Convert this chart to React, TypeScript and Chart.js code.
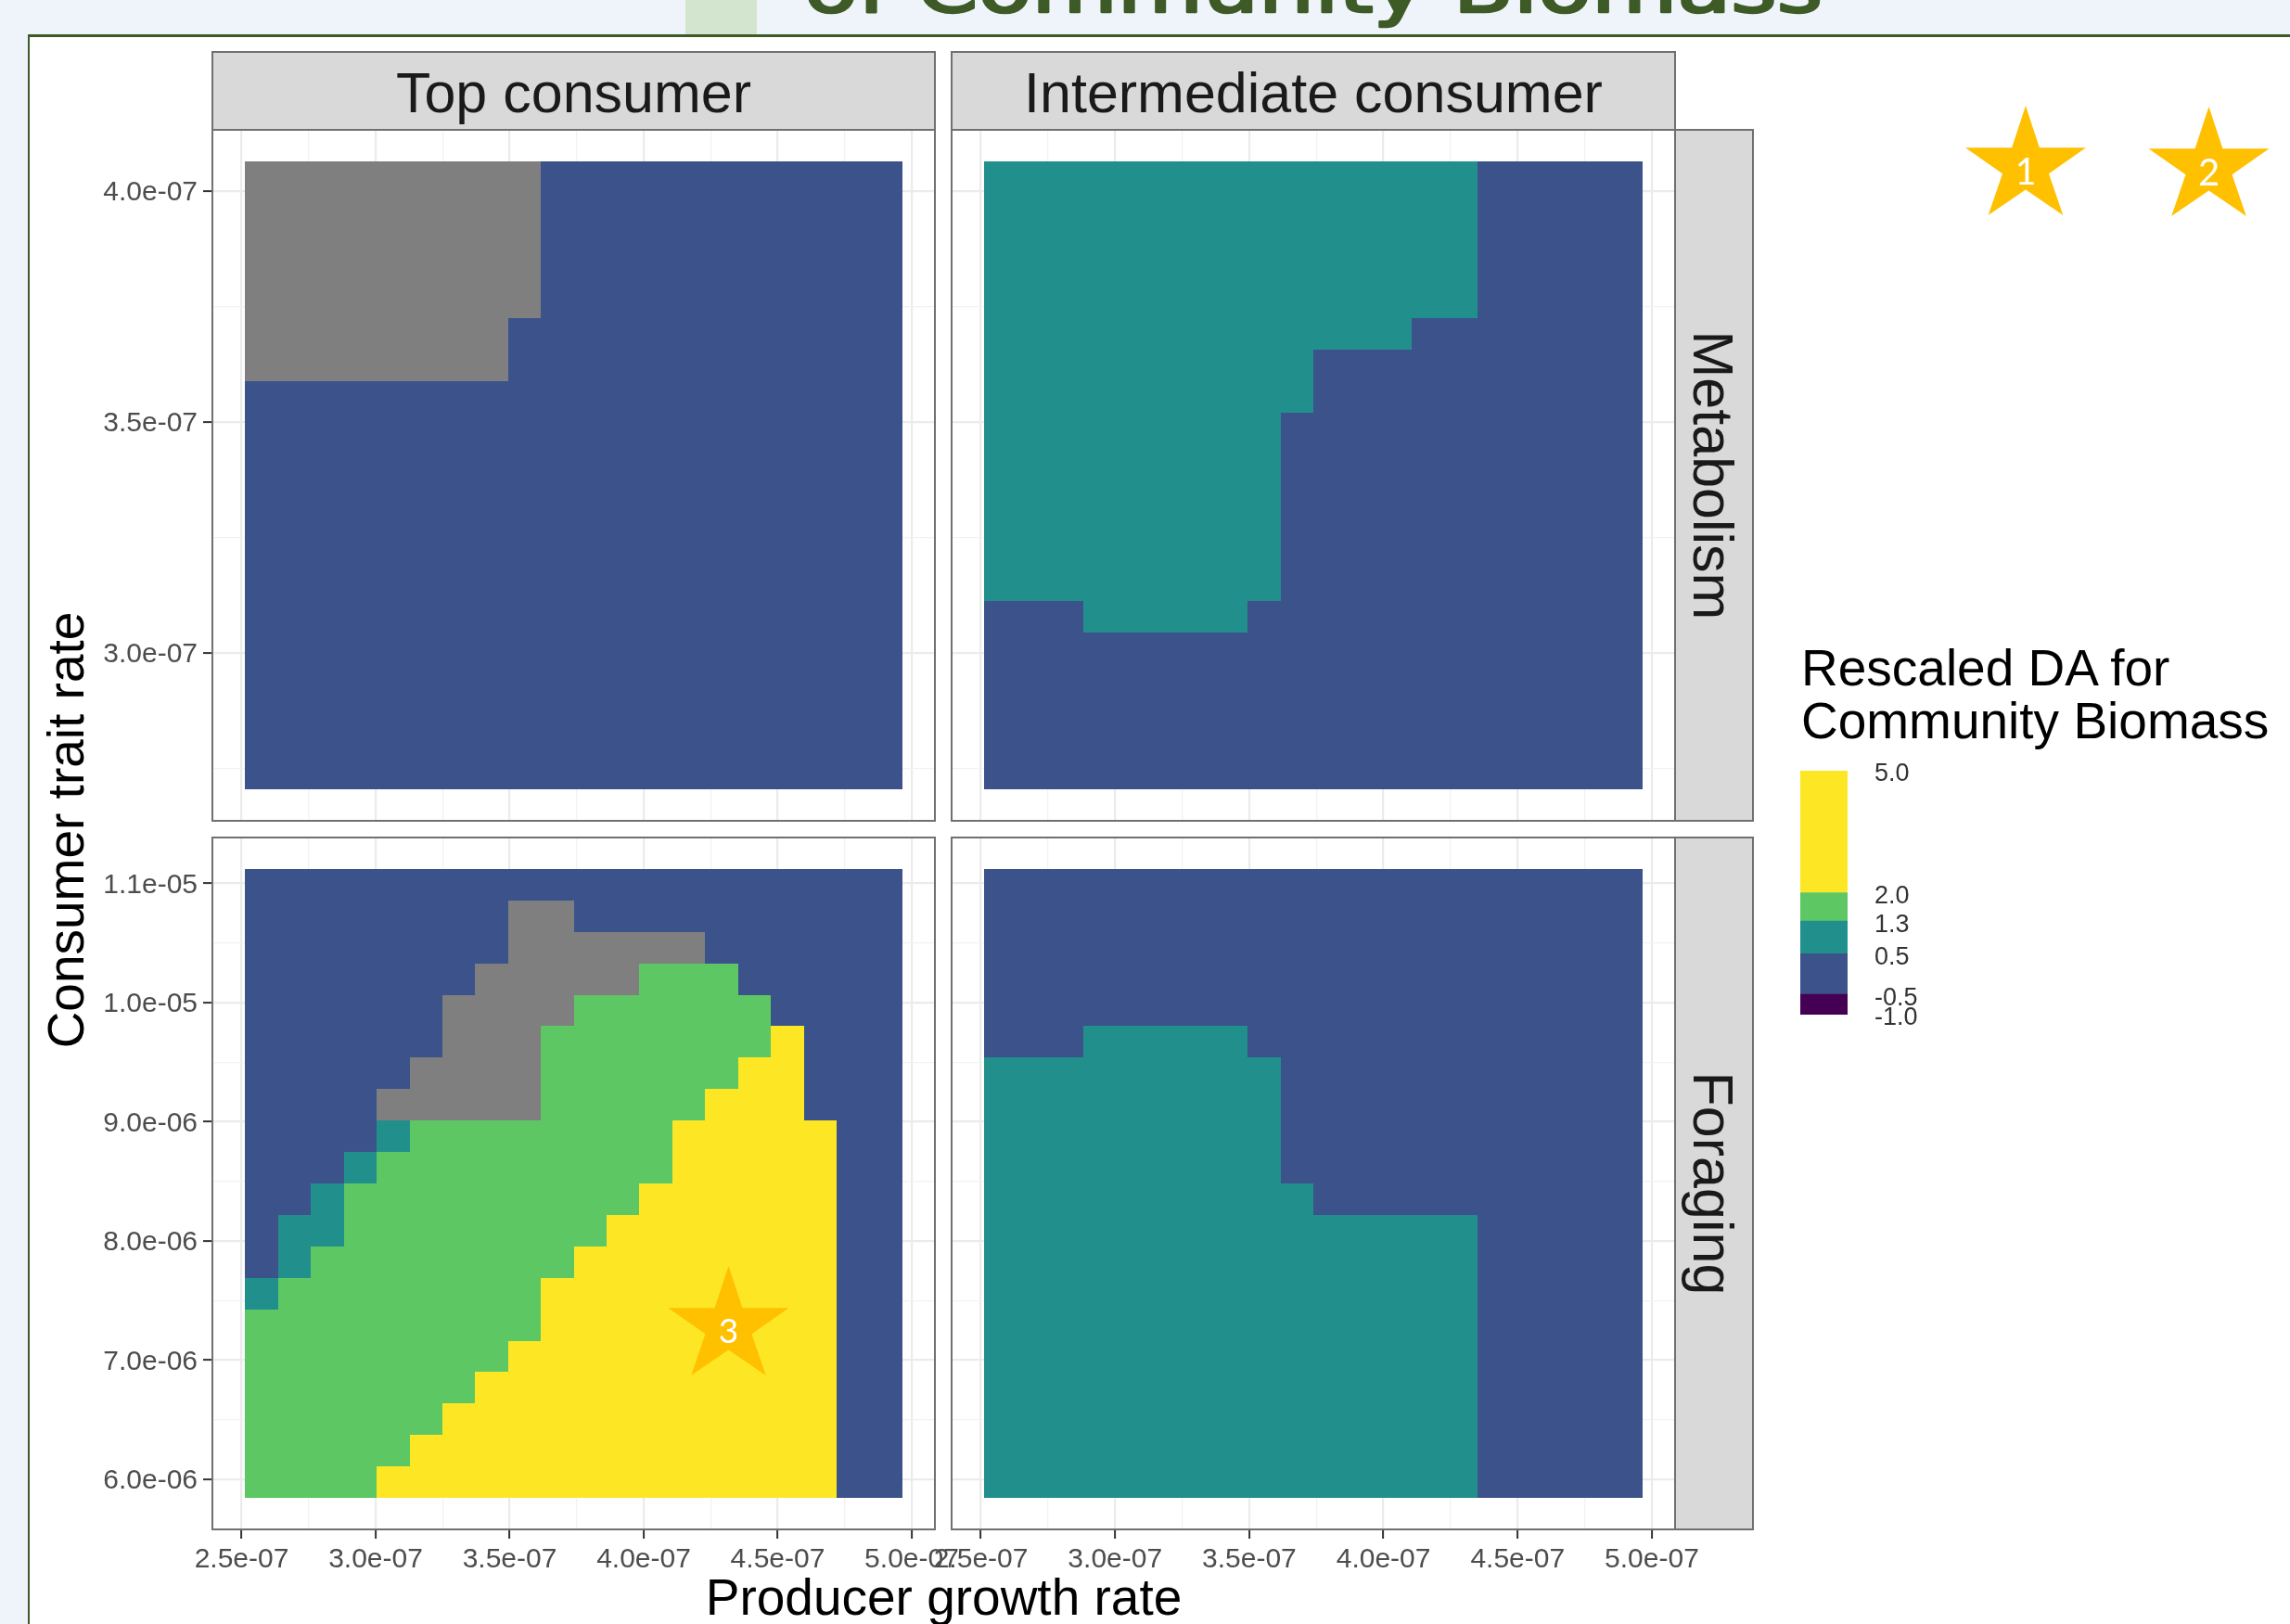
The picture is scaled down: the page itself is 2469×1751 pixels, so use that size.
import React, { useEffect, useRef } from "react";
import { Chart, registerables } from "chart.js";

Chart.register(...registerables);

// ---------------- data ----------------
const producerGrowthRates = [
  2.575e-7, 2.698e-7, 2.82e-7, 2.943e-7, 3.065e-7, 3.188e-7, 3.31e-7, 3.433e-7, 3.555e-7, 3.678e-7,
  3.8e-7, 3.923e-7, 4.045e-7, 4.168e-7, 4.29e-7, 4.413e-7, 4.536e-7, 4.658e-7, 4.781e-7, 4.903e-7,
];
// consumer trait rates, lowest first
const metabolismRates = [
  2.739e-7, 2.807e-7, 2.875e-7, 2.943e-7, 3.011e-7, 3.079e-7, 3.147e-7, 3.215e-7, 3.283e-7, 3.351e-7,
  3.419e-7, 3.487e-7, 3.555e-7, 3.623e-7, 3.691e-7, 3.759e-7, 3.827e-7, 3.895e-7, 3.963e-7, 4.031e-7,
];
const foragingRates = [
  5.976e-6, 6.24e-6, 6.504e-6, 6.768e-6, 7.032e-6, 7.295e-6, 7.559e-6, 7.823e-6, 8.087e-6, 8.351e-6,
  8.615e-6, 8.879e-6, 9.143e-6, 9.407e-6, 9.671e-6, 9.934e-6, 10.198e-6, 10.462e-6, 10.726e-6, 10.99e-6,
];

const consumerLevels = ["Top consumer", "Intermediate consumer"];
const traitLevels = ["Metabolism", "Foraging"];

// Binned rescaled DA per cell; rows run from the highest trait rate (top) down.
// P: -1.0..-0.5  B: -0.5..0.5  T: 0.5..1.3  G: 1.3..2.0  Y: 2.0..5.0  N: NA
const topConsumerMetabolism = [
  "NNNNNNNNNBBBBBBBBBBB",
  "NNNNNNNNNBBBBBBBBBBB",
  "NNNNNNNNNBBBBBBBBBBB",
  "NNNNNNNNNBBBBBBBBBBB",
  "NNNNNNNNNBBBBBBBBBBB",
  "NNNNNNNNBBBBBBBBBBBB",
  "NNNNNNNNBBBBBBBBBBBB",
  "BBBBBBBBBBBBBBBBBBBB",
  "BBBBBBBBBBBBBBBBBBBB",
  "BBBBBBBBBBBBBBBBBBBB",
  "BBBBBBBBBBBBBBBBBBBB",
  "BBBBBBBBBBBBBBBBBBBB",
  "BBBBBBBBBBBBBBBBBBBB",
  "BBBBBBBBBBBBBBBBBBBB",
  "BBBBBBBBBBBBBBBBBBBB",
  "BBBBBBBBBBBBBBBBBBBB",
  "BBBBBBBBBBBBBBBBBBBB",
  "BBBBBBBBBBBBBBBBBBBB",
  "BBBBBBBBBBBBBBBBBBBB",
  "BBBBBBBBBBBBBBBBBBBB",
];
const intermediateConsumerMetabolism = [
  "TTTTTTTTTTTTTTTBBBBB",
  "TTTTTTTTTTTTTTTBBBBB",
  "TTTTTTTTTTTTTTTBBBBB",
  "TTTTTTTTTTTTTTTBBBBB",
  "TTTTTTTTTTTTTTTBBBBB",
  "TTTTTTTTTTTTTBBBBBBB",
  "TTTTTTTTTTBBBBBBBBBB",
  "TTTTTTTTTTBBBBBBBBBB",
  "TTTTTTTTTBBBBBBBBBBB",
  "TTTTTTTTTBBBBBBBBBBB",
  "TTTTTTTTTBBBBBBBBBBB",
  "TTTTTTTTTBBBBBBBBBBB",
  "TTTTTTTTTBBBBBBBBBBB",
  "TTTTTTTTTBBBBBBBBBBB",
  "BBBTTTTTBBBBBBBBBBBB",
  "BBBBBBBBBBBBBBBBBBBB",
  "BBBBBBBBBBBBBBBBBBBB",
  "BBBBBBBBBBBBBBBBBBBB",
  "BBBBBBBBBBBBBBBBBBBB",
  "BBBBBBBBBBBBBBBBBBBB",
];
const topConsumerForaging = [
  "BBBBBBBBBBBBBBBBBBBB",
  "BBBBBBBBNNBBBBBBBBBB",
  "BBBBBBBBNNNNNNBBBBBB",
  "BBBBBBBNNNNNGGGBBBBB",
  "BBBBBBNNNNGGGGGGBBBB",
  "BBBBBBNNNGGGGGGGYBBB",
  "BBBBBNNNNGGGGGGYYBBB",
  "BBBBNNNNNGGGGGYYYBBB",
  "BBBBTGGGGGGGGYYYYYBB",
  "BBBTGGGGGGGGGYYYYYBB",
  "BBTGGGGGGGGGYYYYYYBB",
  "BTTGGGGGGGGYYYYYYYBB",
  "BTGGGGGGGGYYYYYYYYBB",
  "TGGGGGGGGYYYYYYYYYBB",
  "GGGGGGGGGYYYYYYYYYBB",
  "GGGGGGGGYYYYYYYYYYBB",
  "GGGGGGGYYYYYYYYYYYBB",
  "GGGGGGYYYYYYYYYYYYBB",
  "GGGGGYYYYYYYYYYYYYBB",
  "GGGGYYYYYYYYYYYYYYBB",
];
const intermediateConsumerForaging = [
  "BBBBBBBBBBBBBBBBBBBB",
  "BBBBBBBBBBBBBBBBBBBB",
  "BBBBBBBBBBBBBBBBBBBB",
  "BBBBBBBBBBBBBBBBBBBB",
  "BBBBBBBBBBBBBBBBBBBB",
  "BBBTTTTTBBBBBBBBBBBB",
  "TTTTTTTTTBBBBBBBBBBB",
  "TTTTTTTTTBBBBBBBBBBB",
  "TTTTTTTTTBBBBBBBBBBB",
  "TTTTTTTTTBBBBBBBBBBB",
  "TTTTTTTTTTBBBBBBBBBB",
  "TTTTTTTTTTTTTTTBBBBB",
  "TTTTTTTTTTTTTTTBBBBB",
  "TTTTTTTTTTTTTTTBBBBB",
  "TTTTTTTTTTTTTTTBBBBB",
  "TTTTTTTTTTTTTTTBBBBB",
  "TTTTTTTTTTTTTTTBBBBB",
  "TTTTTTTTTTTTTTTBBBBB",
  "TTTTTTTTTTTTTTTBBBBB",
  "TTTTTTTTTTTTTTTBBBBB",
];

const producerMajorTicks = [2.5e-7, 3.0e-7, 3.5e-7, 4.0e-7, 4.5e-7, 5.0e-7];
const producerTickLabels = ["2.5e-07", "3.0e-07", "3.5e-07", "4.0e-07", "4.5e-07", "5.0e-07"];
const producerMinorTicks = [2.75e-7, 3.25e-7, 3.75e-7, 4.25e-7, 4.75e-7];
const metabolismMajorTicks = [3.0e-7, 3.5e-7, 4.0e-7];
const metabolismTickLabels = ["3.0e-07", "3.5e-07", "4.0e-07"];
const metabolismMinorTicks = [2.75e-7, 3.25e-7, 3.75e-7];
const foragingMajorTicks = [6.0e-6, 7.0e-6, 8.0e-6, 9.0e-6, 1.0e-5, 1.1e-5];
const foragingTickLabels = ["6.0e-06", "7.0e-06", "8.0e-06", "9.0e-06", "1.0e-05", "1.1e-05"];
const foragingMinorTicks = [6.5e-6, 7.5e-6, 8.5e-6, 9.5e-6, 1.05e-5];

const legendBreaks = [-1.0, -0.5, 0.5, 1.3, 2.0, 5.0];
const legendTickLabels = ["-1.0", "-0.5", "0.5", "1.3", "2.0", "5.0"];
const legendBinCodes = ["P", "B", "T", "G", "Y"];

const classColors: Record<string, string> = {
  P: "#440154",
  B: "#3B528B",
  T: "#21908C",
  G: "#5DC863",
  Y: "#FDE725",
  N: "#7F7F7F",
};
const classNames: Record<string, string> = {
  P: "-1.0 to -0.5",
  B: "-0.5 to 0.5",
  T: "0.5 to 1.3",
  G: "1.3 to 2.0",
  Y: "2.0 to 5.0",
  N: "NA",
};

// ---------------- helpers ----------------
const FONT = '"Liberation Sans", Arial, Helvetica, sans-serif';

type TickDef = { value: number; isMajor: boolean; lbl: string };

function buildTicks(major: number[], labels: string[], minor: number[]): TickDef[] {
  const t: TickDef[] = major.map((v, i) => ({ value: v, isMajor: true, lbl: labels[i] }));
  minor.forEach((v) => t.push({ value: v, isMajor: false, lbl: "" }));
  return t.sort((a, b) => a.value - b.value);
}

function edgesOf(c: number[]): number[] {
  const n = c.length;
  const e: number[] = [c[0] - (c[1] - c[0]) / 2];
  for (let i = 1; i < n; i++) e.push((c[i - 1] + c[i]) / 2);
  e.push(c[n - 1] + (c[n - 1] - c[n - 2]) / 2);
  return e;
}

function paddedRange(edges: number[]): [number, number] {
  const lo = edges[0];
  const hi = edges[edges.length - 1];
  const pad = (hi - lo) * 0.05;
  return [lo - pad, hi + pad];
}

function axisOptions(min: number, max: number, ticks: TickDef[], show: boolean, horizontal: boolean) {
  return {
    type: "linear",
    bounds: "data",
    min,
    max,
    afterBuildTicks: (axis: any) => {
      axis.ticks = ticks.map((t) => ({ ...t }));
    },
    afterFit: (axis: any) => {
      if (horizontal) axis.height = show ? 80 : 0;
      else axis.width = show ? 140 : 0;
      axis.paddingLeft = 0;
      axis.paddingRight = 0;
      axis.paddingTop = 0;
      axis.paddingBottom = 0;
    },
    border: { display: false },
    grid: {
      drawOnChartArea: true,
      drawTicks: show,
      tickLength: 10,
      color: (c: any) => (c.tick && c.tick.isMajor ? "#EBEBEB" : "#F2F2F2"),
      lineWidth: (c: any) => (c.tick && c.tick.isMajor ? 2.2 : 1.3),
      tickColor: (c: any) => (c.tick && c.tick.isMajor ? "#333333" : "rgba(0,0,0,0)"),
      tickWidth: 2,
    },
    ticks: {
      display: show,
      autoSkip: false,
      maxRotation: 0,
      minRotation: 0,
      padding: horizontal ? 5 : 6,
      labelOffset: horizontal ? 0 : 2,
      color: "#4D4D4D",
      font: { family: FONT, size: 30 },
      callback: (_v: any, i: number, ts: any[]) => (ts[i] && ts[i].lbl) || "",
    },
  };
}

type Rect = { x: number; y: number; w: number; h: number };

function HeatPanel(props: {
  grid: string[];
  yCenters: number[];
  yTicks: TickDef[];
  showX: boolean;
  showY: boolean;
  rect: Rect;
}) {
  const { grid, yCenters, yTicks, showX, showY, rect } = props;
  const ref = useRef<HTMLCanvasElement>(null);
  const ml = showY ? 140 : 60;
  const mr = 60;
  const mt = 20;
  const mb = showX ? 80 : 20;
  const cw = rect.w + ml + mr;
  const ch = rect.h + mt + mb;

  useEffect(() => {
    const xEdges = edgesOf(producerGrowthRates);
    const yEdges = edgesOf(yCenters);
    const [xMin, xMax] = paddedRange(xEdges);
    const [yMin, yMax] = paddedRange(yEdges);
    const n = yCenters.length;
    const byClass: Record<string, any[]> = {};
    grid.forEach((row, r) => {
      const j = n - 1 - r;
      row.split("").forEach((code, i) => {
        if (!byClass[code]) byClass[code] = [];
        byClass[code].push({ x: producerGrowthRates[i], y: yCenters[j], i, j });
      });
    });
    const datasets = Object.keys(byClass).map((code) => ({
      label: classNames[code],
      data: byClass[code],
      backgroundColor: classColors[code],
      pointRadius: 0,
      pointHoverRadius: 0,
    }));
    const xTicks = buildTicks(producerMajorTicks, producerTickLabels, producerMinorTicks);

    const tiles = {
      id: "tiles",
      beforeDatasetsDraw(chart: any) {
        const { ctx } = chart;
        const xs = chart.scales.x;
        const ys = chart.scales.y;
        ctx.save();
        chart.data.datasets.forEach((ds: any) => {
          ctx.fillStyle = ds.backgroundColor;
          ds.data.forEach((p: any) => {
            const l = Math.round(xs.getPixelForValue(xEdges[p.i]));
            const r = Math.round(xs.getPixelForValue(xEdges[p.i + 1]));
            const t = Math.round(ys.getPixelForValue(yEdges[p.j + 1]));
            const b = Math.round(ys.getPixelForValue(yEdges[p.j]));
            ctx.fillRect(l, t, r - l, b - t);
          });
        });
        ctx.restore();
      },
      afterDraw(chart: any) {
        const { ctx, chartArea: a } = chart;
        ctx.save();
        ctx.strokeStyle = "#707070";
        ctx.lineWidth = 2;
        ctx.strokeRect(a.left, a.top, a.right - a.left, a.bottom - a.top);
        ctx.restore();
      },
    };

    const chart = new Chart(ref.current as HTMLCanvasElement, {
      type: "scatter",
      data: { datasets },
      options: {
        responsive: false,
        animation: false,
        devicePixelRatio: 1,
        events: [],
        layout: {
          padding: { left: showY ? 0 : ml, right: mr, top: mt, bottom: showX ? 0 : mb },
        },
        plugins: { legend: { display: false }, tooltip: { enabled: false } },
        scales: {
          x: axisOptions(xMin, xMax, xTicks, showX, true),
          y: axisOptions(yMin, yMax, yTicks, showY, false),
        },
      } as any,
      plugins: [tiles],
    });
    return () => chart.destroy();
  }, []);

  return (
    <canvas
      ref={ref}
      width={cw}
      height={ch}
      style={{ position: "absolute", left: rect.x - ml, top: rect.y - mt, width: cw, height: ch }}
    />
  );
}

function LegendBar() {
  const ref = useRef<HTMLCanvasElement>(null);
  const bar = { x: 1941, y: 831, w: 51, h: 263 };
  const pl = 10, pr = 10, pt = 30, pb = 30, axisW = 110;
  const cw = bar.w + pl + pr + axisW;
  const ch = bar.h + pt + pb;
  useEffect(() => {
    const datasets = legendBinCodes.map((code, k) => ({
      label: classNames[code],
      data: [[legendBreaks[k], legendBreaks[k + 1]]],
      backgroundColor: classColors[code],
      borderWidth: 0,
      barPercentage: 1,
      categoryPercentage: 1,
      grouped: false,
    }));
    const chart = new Chart(ref.current as HTMLCanvasElement, {
      type: "bar",
      data: { labels: [""], datasets },
      options: {
        responsive: false,
        animation: false,
        devicePixelRatio: 1,
        events: [],
        layout: { padding: { left: pl, right: pr, top: pt, bottom: pb } },
        plugins: { legend: { display: false }, tooltip: { enabled: false } },
        scales: {
          x: { display: false },
          y: {
            position: "right",
            min: legendBreaks[0],
            max: legendBreaks[legendBreaks.length - 1],
            afterBuildTicks: (axis: any) => {
              axis.ticks = legendBreaks.map((v) => ({ value: v }));
            },
            afterFit: (axis: any) => {
              axis.width = axisW;
              axis.paddingTop = 0;
              axis.paddingBottom = 0;
            },
            grid: { display: false, drawTicks: false },
            border: { display: false },
            ticks: {
              autoSkip: false,
              padding: 29,
              labelOffset: 4,
              color: "#333333",
              font: { family: FONT, size: 27 },
              callback: (_v: any, i: number) => legendTickLabels[i],
            },
          },
        },
      } as any,
    });
    return () => chart.destroy();
  }, []);
  return (
    <canvas
      ref={ref}
      width={cw}
      height={ch}
      style={{ position: "absolute", left: bar.x - pl, top: bar.y - pt, width: cw, height: ch }}
    />
  );
}

function starPoints(cx: number, cy: number, w: number, h: number): string {
  const unit = [
    [0.5, 0], [0.615, 0.384], [1, 0.384], [0.692, 0.62], [0.81, 1],
    [0.5, 0.766], [0.19, 1], [0.308, 0.62], [0, 0.384], [0.385, 0.384],
  ];
  const x0 = cx - w / 2;
  const y0 = cy - h / 2;
  return unit.map(([u, v]) => `${(x0 + u * w).toFixed(1)},${(y0 + v * h).toFixed(1)}`).join(" ");
}

const PANELS: Rect[] = [
  { x: 229, y: 140, w: 779, h: 745 },
  { x: 1026, y: 140, w: 780, h: 745 },
  { x: 229, y: 903, w: 779, h: 746 },
  { x: 1026, y: 903, w: 780, h: 746 },
];

export default function App() {
  const metaTicks = buildTicks(metabolismMajorTicks, metabolismTickLabels, metabolismMinorTicks);
  const forTicks = buildTicks(foragingMajorTicks, foragingTickLabels, foragingMinorTicks);
  const green = "#3D5A27";
  const stars = [
    { cx: 2184, cy: 173, label: "1", size: 40, dy: 26 },
    { cx: 2381.5, cy: 174, label: "2", size: 40, dy: 26 },
    { cx: 785.5, cy: 1424, label: "3", size: 37, dy: 24 },
  ];
  return (
    <div
      style={{
        position: "absolute",
        left: 0,
        top: 0,
        width: 2469,
        height: 1751,
        overflow: "hidden",
        background: "#EEF4F9",
      }}
    >
      <div style={{ position: "absolute", left: 739, top: 0, width: 77, height: 38, background: "#D3E4CF" }} />
      <div
        style={{
          position: "absolute",
          left: 30,
          top: 37,
          right: 0,
          bottom: 0,
          background: "#FFFFFF",
          borderTop: `3px solid ${green}`,
          borderLeft: `2px solid ${green}`,
        }}
      />
      <HeatPanel grid={topConsumerMetabolism} yCenters={metabolismRates} yTicks={metaTicks} showX={false} showY={true} rect={PANELS[0]} />
      <HeatPanel grid={intermediateConsumerMetabolism} yCenters={metabolismRates} yTicks={metaTicks} showX={false} showY={false} rect={PANELS[1]} />
      <HeatPanel grid={topConsumerForaging} yCenters={foragingRates} yTicks={forTicks} showX={true} showY={true} rect={PANELS[2]} />
      <HeatPanel grid={intermediateConsumerForaging} yCenters={foragingRates} yTicks={forTicks} showX={true} showY={false} rect={PANELS[3]} />
      <LegendBar />
      <svg
        width={2469}
        height={1751}
        style={{ position: "absolute", left: 0, top: 0, pointerEvents: "none" }}
      >
        <text
          x={867}
          y={13}
          fontSize={76}
          fontFamily='"DejaVu Sans Condensed", "DejaVu Sans", sans-serif'
          textLength={1098}
          lengthAdjust="spacingAndGlyphs"
          fill={green}
          stroke={green}
          strokeWidth={2.5}
          strokeLinejoin="round"
        >
          of Community Biomass
        </text>
        {/* column strips */}
        {consumerLevels.map((lvl, k) => {
          const p = PANELS[k];
          return (
            <g key={lvl}>
              <rect x={p.x} y={56} width={p.w} height={84} fill="#D9D9D9" stroke="#707070" strokeWidth={2} />
              <text x={p.x + p.w / 2} y={121} fontSize={61} fontFamily={FONT} fill="#1A1A1A" textAnchor="middle">
                {lvl}
              </text>
            </g>
          );
        })}
        {/* row strips */}
        {traitLevels.map((lvl, k) => {
          const p = PANELS[k * 2 + 1];
          const cx = 1848;
          const cy = p.y + p.h / 2;
          return (
            <g key={lvl}>
              <rect x={1806} y={p.y} width={84} height={p.h} fill="#D9D9D9" stroke="#707070" strokeWidth={2} />
              <text
                x={cx}
                y={cy}
                dy={22}
                fontSize={61}
                fontFamily={FONT}
                fill="#1A1A1A"
                textAnchor="middle"
                transform={`rotate(90 ${cx} ${cy})`}
              >
                {lvl}
              </text>
            </g>
          );
        })}
        <text
          x={70}
          y={895}
          dy={20}
          fontSize={55}
          fontFamily={FONT}
          fill="#000000"
          textAnchor="middle"
          transform="rotate(-90 70 895)"
        >
          Consumer trait rate
        </text>
        <text x={1017.5} y={1741} fontSize={55} fontFamily={FONT} fill="#000000" textAnchor="middle">
          Producer growth rate
        </text>
        <text x={1942} y={739} fontSize={55} fontFamily={FONT} fill="#000000">
          Rescaled DA for
        </text>
        <text x={1942} y={796} fontSize={55} fontFamily={FONT} fill="#000000">
          Community Biomass
        </text>
        {stars.map((s) => (
          <g key={s.label}>
            <polygon points={starPoints(s.cx, s.cy, 130, 118)} fill="#FFC000" />
            <text
              x={s.cx}
              y={s.cy + s.dy}
              fontSize={s.size}
              fontFamily='Lato, "Open Sans", sans-serif'
              fill="#FFFFFF"
              textAnchor="middle"
            >
              {s.label}
            </text>
          </g>
        ))}
      </svg>
    </div>
  );
}
